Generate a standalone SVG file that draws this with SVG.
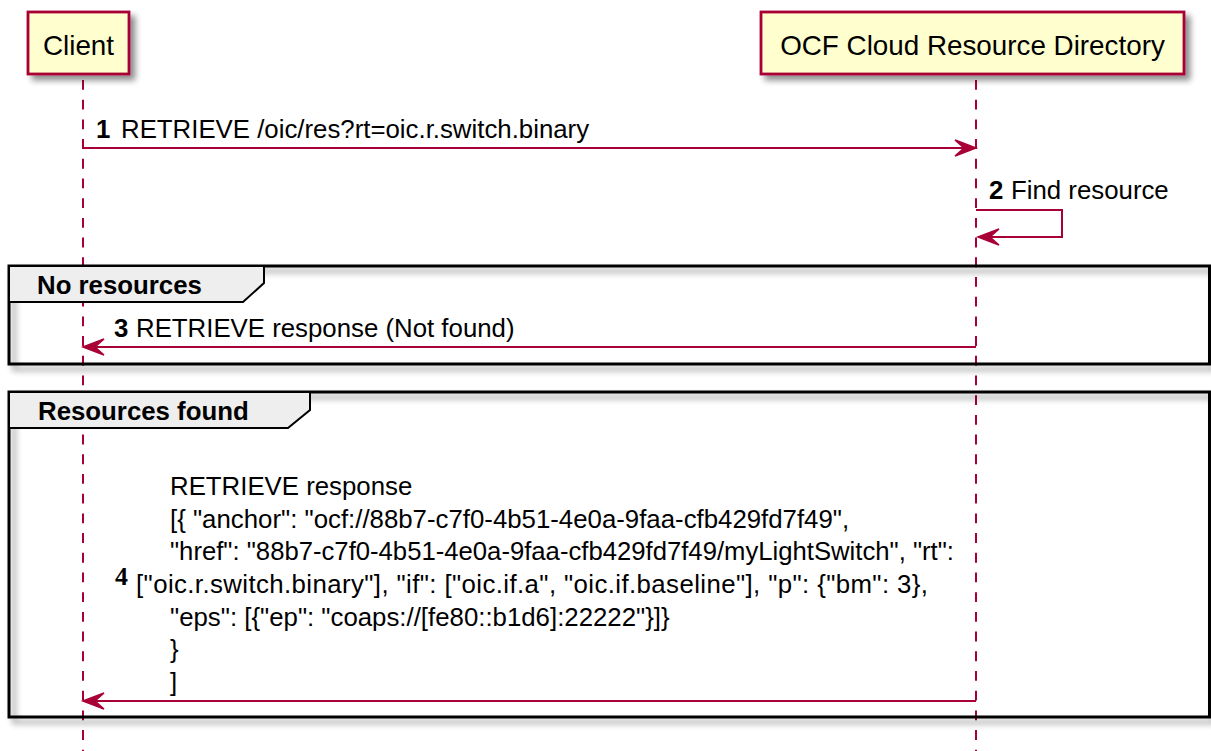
<svg xmlns="http://www.w3.org/2000/svg" width="1211" height="751" viewBox="0 0 1211 751">
  <defs>
    <filter id="shadow" x="-10%" y="-10%" width="130%" height="140%">
      <feGaussianBlur in="SourceAlpha" stdDeviation="3"/>
      <feOffset dx="5" dy="5" result="b"/>
      <feComponentTransfer in="b" result="s">
        <feFuncA type="linear" slope="0.45"/>
      </feComponentTransfer>
      <feMerge>
        <feMergeNode in="s"/>
        <feMergeNode in="SourceGraphic"/>
      </feMerge>
    </filter>
  </defs>
  <style>
    .part rect { fill: #FEFECE; stroke: #A80036; stroke-width: 2.8; }
    .ptext { font-family: "Liberation Sans", Arial, sans-serif; font-size: 27.8px; fill: #000; text-anchor: middle; }
    .life { stroke: #A80036; stroke-width: 2; stroke-dasharray: 9.85,9.85; fill: none; }
    .frame { fill: none; stroke: #000; stroke-width: 3; }
    .tab { fill: #EEEEEE; stroke: #000; stroke-width: 2; }
    .gtitle { font-family: "Liberation Sans", Arial, sans-serif; font-size: 25.8px; font-weight: bold; fill: #000; }
    .msg { stroke: #A80036; stroke-width: 2; fill: none; }
    .head { fill: #A80036; stroke: #A80036; stroke-width: 1.5; stroke-linejoin: miter; }
    .mtext { font-family: "Liberation Sans", Arial, sans-serif; font-size: 25.8px; fill: #000; }
    .num { font-weight: bold; }
    .num4 { font-family: "Liberation Serif", "Times New Roman", serif; font-weight: bold; font-size: 25.8px; fill: #000; }
  </style>

  <g id="lifelines">
    <line class="life" x1="83" y1="80" x2="83" y2="751"/>
    <line class="life" x1="976" y1="80" x2="976" y2="751"/>
  </g>

  <g id="participant-client" class="part">
    <rect x="28" y="12" width="101" height="62" filter="url(#shadow)"/>
    <text class="ptext" x="78.5" y="55">Client</text>
  </g>

  <g id="participant-rd" class="part">
    <rect x="761" y="12" width="423" height="62" filter="url(#shadow)"/>
    <text class="ptext" x="972.5" y="55">OCF Cloud Resource Directory</text>
  </g>

  <g id="group-no-resources">
    <rect class="frame" x="9" y="266" width="1200.5" height="98" filter="url(#shadow)"/>
    <polygon class="tab" points="9,266 264,266 264,283 243,302 9,302"/>
    <text class="gtitle" x="37" y="294">No resources</text>
  </g>

  <g id="group-resources-found">
    <rect class="frame" x="9" y="392" width="1200.5" height="325" filter="url(#shadow)"/>
    <polygon class="tab" points="9,392 310,392 310,410 288,428 9,428"/>
    <text class="gtitle" x="38" y="420">Resources found</text>
  </g>

  <g id="connectors">
    <g id="msg1">
      <line class="msg" x1="83" y1="148" x2="974" y2="148"/>
      <polygon class="head" points="976,148 955,140 964,148 955,156"/>
      <text class="mtext" y="138"><tspan class="num" x="96">1</tspan><tspan x="121">RETRIEVE /oic/res?rt=oic.r.switch.binary</tspan></text>
    </g>
    <g id="msg2">
      <polyline class="msg" points="976,210 1062,210 1062,237 980,237"/>
      <polygon class="head" points="978,237 999,229 990,237 999,245"/>
      <text class="mtext" y="199"><tspan class="num" x="989">2</tspan><tspan x="1011">Find resource</tspan></text>
    </g>
    <g id="msg3">
      <line class="msg" x1="85" y1="347" x2="976" y2="347"/>
      <polygon class="head" points="83,347 104,339 95,347 104,355"/>
      <text class="mtext" y="337"><tspan class="num" x="114">3</tspan><tspan x="136">RETRIEVE response (Not found)</tspan></text>
    </g>
    <g id="msg4">
      <line class="msg" x1="85" y1="701" x2="976" y2="701"/>
      <polygon class="head" points="83,701 104,693 95,701 104,709"/>
      <text class="num4" x="115" y="585">4</text>
      <text class="mtext" x="170" y="495">RETRIEVE response</text>
      <text class="mtext" x="170" y="527.7">[{ "anchor": "ocf://88b7-c7f0-4b51-4e0a-9faa-cfb429fd7f49",</text>
      <text class="mtext" x="170" y="560.3" textLength="784" lengthAdjust="spacingAndGlyphs">"href": "88b7-c7f0-4b51-4e0a-9faa-cfb429fd7f49/myLightSwitch", "rt":</text>
      <text class="mtext" x="136" y="593" textLength="792" lengthAdjust="spacing">["oic.r.switch.binary"], "if": ["oic.if.a", "oic.if.baseline"], "p": {"bm": 3},</text>
      <text class="mtext" x="170" y="625.7">"eps": [{"ep": "coaps://[fe80::b1d6]:22222"}]}</text>
      <text class="mtext" x="170" y="658.3">}</text>
      <text class="mtext" x="170" y="691">]</text>
    </g>
  </g>
</svg>
